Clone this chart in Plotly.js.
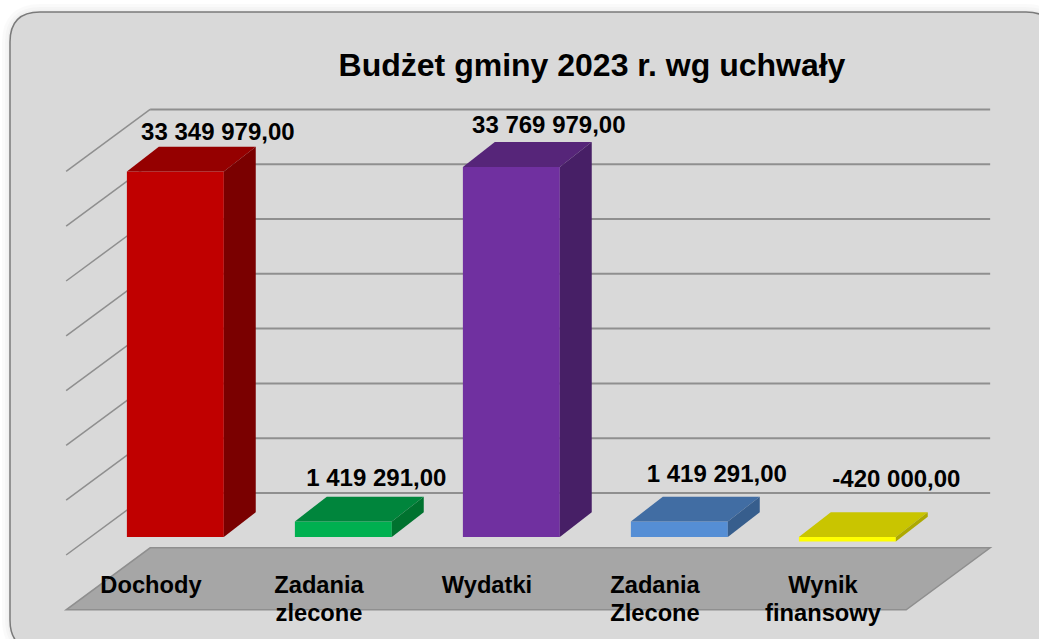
<!DOCTYPE html>
<html>
<head>
<meta charset="utf-8">
<script src="https://cdn.plot.ly/plotly-3.0.1.min.js"></script>
<style>html,body{margin:0;padding:0;background:#fff}#chart{width:1039px;height:639px}</style>
</head>
<body>
<div id="chart"></div>
<script>
// --- data ---
const categories = ['Dochody', 'Zadania\nzlecone', 'Wydatki', 'Zadania\nZlecone', 'Wynik\nfinansowy'];
const values = [33349979, 1419291, 33769979, 1419291, -420000];
const valueLabels = ['33 349 979,00', '1 419 291,00', '33 769 979,00', '1 419 291,00', '-420 000,00'];
const gridLevels = [-5e6, 0, 5e6, 10e6, 15e6, 20e6, 25e6, 30e6, 35e6];
// --- style ---
const frontColors = ['#C00000', '#00B050', '#7030A0', '#558ED5', '#FFFF00'];
const topColors = ['#950000', '#00853C', '#562579', '#416DA3', '#C9C500'];
const sideColors = ['#7A0000', '#00722F', '#471F66', '#375E8D', '#ADA900'];
const labelShiftX = [0.253, 0.196, 0.223, 0.223, 0.292];   // category units from bar centre
const labelShiftY = [1.19e6, 1.55e6, 1.36e6, 1.91e6, 2.83e6]; // value units above the bar's top back edge
// --- oblique projection, all in axis units ---
const W = 1039, H = 639;
const PXX = 168, PXY = 10.96 / 1e6;     // px per category, px per value unit
const xRange = [-151 / PXX, (W - 151) / PXX];
const yRange = [(555 - H) / PXY, 555 / PXY];
const DEPTH_X = 0.5, DEPTH_Y = 62 / PXY; // wall depth
const D1 = 0.29, D2 = 0.67, D2Y = 0.69, BAR_W = 0.577;
const FLOOR = gridLevels[0];
const px = (c, d) => c + d * DEPTH_X;
const py = (v, d) => v + d * DEPTH_Y;

const traces = [];
// front faces
traces.push({
  type: 'bar',
  x: values.map((v, i) => px(i, D1)),
  y: values,
  base: values.map(() => py(0, D1)),
  width: BAR_W,
  marker: {color: frontColors, line: {width: 0}},
  hoverinfo: 'skip'
});
// top and side faces
values.forEach((v, i) => {
  const hi = Math.max(v, 0), lo = Math.min(v, 0), h = BAR_W / 2;
  const L = i - h, R = i + h;
  traces.push({
    type: 'scatter', mode: 'lines', fill: 'toself', fillcolor: topColors[i],
    line: {width: 0, color: topColors[i]}, hoverinfo: 'skip',
    x: [px(L, D1), px(R, D1), px(R, D2), px(L, D2), px(L, D1)],
    y: [py(hi, D1), py(hi, D1), py(hi, D2Y), py(hi, D2Y), py(hi, D1)]
  });
  traces.push({
    type: 'scatter', mode: 'lines', fill: 'toself', fillcolor: sideColors[i],
    line: {width: 0, color: sideColors[i]}, hoverinfo: 'skip',
    x: [px(R, D1), px(R, D2), px(R, D2), px(R, D1), px(R, D1)],
    y: [py(hi, D1), py(hi, D2Y), py(lo, D2Y), py(lo, D1), py(hi, D1)]
  });
});
const labelFont = {family: '"Liberation Sans", Arial, sans-serif', size: 24, color: '#000000'};
const catFont = {family: '"Liberation Sans", Arial, sans-serif', size: 23.7, color: '#000000'};
// value labels
traces.push({
  type: 'scatter', mode: 'text', hoverinfo: 'skip',
  x: values.map((v, i) => px(i, D1) + labelShiftX[i]),
  y: values.map((v, i) => py(Math.max(v, 0), D2Y) + labelShiftY[i]),
  text: valueLabels.map(t => '<b>' + t + '</b>'),
  textposition: 'middle center',
  textfont: labelFont, cliponaxis: false
});
// category labels, line by line
[0, 1].forEach(line => {
  traces.push({
    type: 'scatter', mode: 'text', hoverinfo: 'skip',
    x: categories.map((c, i) => i),
    y: categories.map(() => FLOOR + (23 - 28 * line) / PXY),
    text: categories.map(c => '<b>' + (c.split('\n')[line] || '') + '</b>'),
    textposition: 'middle center',
    textfont: catFont, cliponaxis: false
  });
});

// --- walls, floor, frame as layout shapes beneath the bars ---
const shapes = [];
const fx = p => (p / W).toFixed(5), fy = p => (1 - p / H).toFixed(5);
function round(l, t, r, b, c) {
  return `M${fx(l + c)},${fy(t)} L${fx(r - c)},${fy(t)} Q${fx(r)},${fy(t)} ${fx(r)},${fy(t + c)} ` +
         `L${fx(r)},${fy(b - c)} Q${fx(r)},${fy(b)} ${fx(r - c)},${fy(b)} L${fx(l + c)},${fy(b)} ` +
         `Q${fx(l)},${fy(b)} ${fx(l)},${fy(b - c)} L${fx(l)},${fy(t + c)} Q${fx(l)},${fy(t)} ${fx(l + c)},${fy(t)} Z`;
}
[16, 10, 5].forEach(w => shapes.push({
  type: 'path', xref: 'paper', yref: 'paper', layer: 'below',
  path: round(10, 12, 1056, 650, 30), line: {color: 'rgba(0,0,0,0.018)', width: w}
}));
shapes.push({
  type: 'path', xref: 'paper', yref: 'paper', layer: 'below',
  path: round(10, 12, 1056, 650, 30), fillcolor: '#D9D9D9', line: {color: '#7a7a7a', width: 1.5}
});
const L = -0.505, R = 4.495;
shapes.push({
  type: 'path', xref: 'x', yref: 'y', layer: 'below',
  path: `M${px(L, 0)},${py(FLOOR, 0)} L${px(R, 0)},${py(FLOOR, 0)} L${px(R, 1)},${py(FLOOR, 1)} L${px(L, 1)},${py(FLOOR, 1)} Z`,
  fillcolor: '#A6A6A6', line: {color: '#8F8F8F', width: 1.5}
});
gridLevels.forEach(g => {
  if (g !== FLOOR) {
    shapes.push({type: 'line', xref: 'x', yref: 'y', layer: 'below',
      x0: px(L, 0), y0: py(g, 0), x1: px(L, 1), y1: py(g, 1), line: {color: '#8F8F8F', width: 1.5}});
    shapes.push({type: 'line', xref: 'x', yref: 'y', layer: 'below',
      x0: px(L, 1), y0: py(g, 1), x1: px(R, 1), y1: py(g, 1), line: {color: '#8F8F8F', width: 2}});
  }
});

const layout = {
  width: W, height: H,
  margin: {l: 0, r: 0, t: 0, b: 0, pad: 0},
  paper_bgcolor: '#FFFFFF', plot_bgcolor: 'rgba(0,0,0,0)',
  showlegend: false, barmode: 'overlay', hovermode: false,
  title: {
    text: '<b>Budżet gminy 2023 r. wg uchwały</b>',
    font: {family: '"Liberation Sans", Arial, sans-serif', size: 32, color: '#000000'},
    x: 592 / W, xanchor: 'center', y: 1 - 65 / H, yanchor: 'middle', automargin: false
  },
  xaxis: {range: xRange, visible: false, fixedrange: true},
  yaxis: {range: yRange, visible: false, fixedrange: true},
  shapes: shapes
};
Plotly.newPlot('chart', traces, layout, {displayModeBar: false, staticPlot: true});
</script>
</body>
</html>
